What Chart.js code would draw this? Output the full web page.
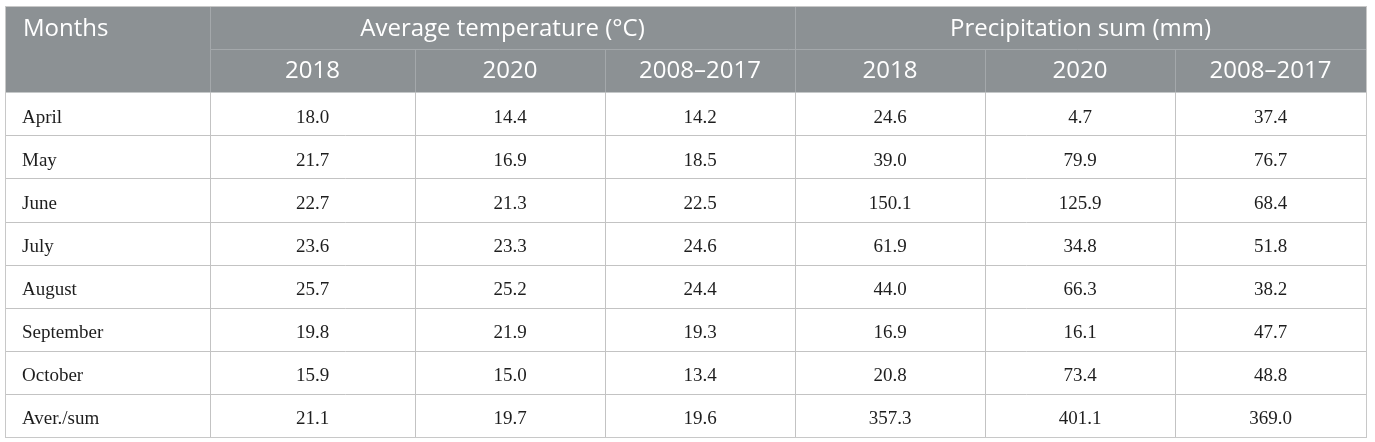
<!DOCTYPE html>
<html>
<head>
<meta charset="utf-8">
<script src="https://cdn.jsdelivr.net/npm/chart.js@4/dist/chart.umd.min.js"></script>
<style>
  html, body { margin: 0; padding: 0; background: #ffffff; }
  #wrap { width: 1375px; height: 442px; }
</style>
</head>
<body>
<div id="wrap"><canvas id="tableChart" width="1375" height="442"></canvas></div>
<script>
// Table content
const months = ['April', 'May', 'June', 'July', 'August', 'September', 'October', 'Aver./sum'];
const periods = ['2018', '2020', '2008–2017'];
const groups = ['Average temperature (°C)', 'Precipitation sum (mm)'];

const temp2018 = [18.0, 21.7, 22.7, 23.6, 25.7, 19.8, 15.9, 21.1];
const temp2020 = [14.4, 16.9, 21.3, 23.3, 25.2, 21.9, 15.0, 19.7];
const tempMean = [14.2, 18.5, 22.5, 24.6, 24.4, 19.3, 13.4, 19.6];
const prec2018 = [24.6, 39.0, 150.1, 61.9, 44.0, 16.9, 20.8, 357.3];
const prec2020 = [4.7, 79.9, 125.9, 34.8, 66.3, 16.1, 73.4, 401.1];
const precMean = [37.4, 76.7, 68.4, 51.8, 38.2, 47.7, 48.8, 369.0];

const valueColumns = [temp2018, temp2020, tempMean, prec2018, prec2020, precMean];

// Layout (relative column widths, header rows)
const colWidths = [205, 205, 190, 190, 190, 190, 191];
const headerRows = 2;
const colEdges = colWidths.reduce((acc, w) => { acc.push(acc[acc.length - 1] + w); return acc; }, [0]);
const totalRows = headerRows + months.length;

const HEADER_BG = '#8c9194';
const HEADER_LINE = '#a4a8ab';
const BODY_LINE = '#c3c3c3';
const HEADER_FONT = '24px "Open Sans"';
const BODY_FONT = '19px "Liberation Serif"';

// one invisible point per cell, positioned through the scales
const cellDatasets = valueColumns.map((values, c) => ({
  label: c < 3 ? groups[0] + ' ' + periods[c] : groups[1] + ' ' + periods[c - 3],
  data: values.map((v, r) => ({
    x: (colEdges[c + 1] + colEdges[c + 2]) / 2,
    y: headerRows + r + 0.5,
    text: v.toFixed(1)
  })),
  pointRadius: 0,
  showLine: false
}));

const tablePlugin = {
  id: 'tablePlugin',
  beforeDatasetsDraw(chart) {
    const { ctx } = chart;
    const xs = chart.scales.x;
    const ys = chart.scales.y;
    const px = v => Math.round(xs.getPixelForValue(v)) + 0.5;
    const py = v => Math.round(ys.getPixelForValue(v)) + 0.5;
    const left = px(0), right = px(colEdges[colEdges.length - 1]);
    const top = py(0), hBottom = py(headerRows), bottom = py(totalRows);

    ctx.save();
    // header background
    ctx.fillStyle = HEADER_BG;
    ctx.fillRect(left, top, right - left, hBottom - top);

    ctx.lineWidth = 1;
    // header lines
    ctx.strokeStyle = HEADER_LINE;
    ctx.beginPath();
    ctx.moveTo(px(colEdges[1]), py(1));
    ctx.lineTo(right, py(1));
    [1, 4].forEach(i => { ctx.moveTo(px(colEdges[i]), top); ctx.lineTo(px(colEdges[i]), py(1)); });
    for (let i = 1; i < colEdges.length - 1; i++) {
      ctx.moveTo(px(colEdges[i]), py(1));
      ctx.lineTo(px(colEdges[i]), hBottom);
    }
    ctx.stroke();

    // body grid
    ctx.strokeStyle = BODY_LINE;
    ctx.beginPath();
    for (let r = headerRows + 1; r < totalRows; r++) {
      ctx.moveTo(left, py(r));
      ctx.lineTo(right, py(r));
    }
    for (let i = 1; i < colEdges.length - 1; i++) {
      ctx.moveTo(px(colEdges[i]), hBottom);
      ctx.lineTo(px(colEdges[i]), bottom);
    }
    ctx.stroke();

    // outer border
    ctx.strokeStyle = '#c8c8c8';
    ctx.strokeRect(left, top, right - left, bottom - top);
    ctx.restore();
  },
  afterDatasetsDraw(chart) {
    const { ctx } = chart;
    const xs = chart.scales.x;
    const ys = chart.scales.y;
    ctx.save();

    // header texts
    ctx.fillStyle = '#ffffff';
    ctx.font = HEADER_FONT;
    ctx.textBaseline = 'middle';
    ctx.textAlign = 'left';
    ctx.fillText('Months', xs.getPixelForValue(0) + 18, ys.getPixelForValue(0.5) + 2);
    ctx.textAlign = 'center';
    groups.forEach((g, i) => {
      const x0 = colEdges[1 + i * 3], x1 = colEdges[4 + i * 3];
      ctx.fillText(g, xs.getPixelForValue((x0 + x1) / 2), ys.getPixelForValue(0.5) + 2);
      periods.forEach((p, j) => {
        const c = 1 + i * 3 + j;
        ctx.fillText(p, xs.getPixelForValue((colEdges[c] + colEdges[c + 1]) / 2), ys.getPixelForValue(1.5) + 1);
      });
    });

    // body texts
    ctx.fillStyle = '#1e1e1e';
    ctx.font = BODY_FONT;
    ctx.textAlign = 'left';
    months.forEach((m, r) => {
      ctx.fillText(m, xs.getPixelForValue(0) + 17, ys.getPixelForValue(headerRows + r + 0.5) + 4);
    });
    ctx.textAlign = 'center';
    chart.data.datasets.forEach((ds, i) => {
      const meta = chart.getDatasetMeta(i);
      meta.data.forEach((pt, r) => {
        ctx.fillText(ds.data[r].text, pt.x, pt.y + 4);
      });
    });
    ctx.restore();
  }
};

function buildTable() {
  const canvas = document.getElementById('tableChart');
  new Chart(canvas.getContext('2d'), {
    type: 'scatter',
    data: { datasets: cellDatasets },
    options: {
      responsive: false,
      animation: false,
      devicePixelRatio: 1,
      layout: { padding: { left: 5, top: 6, right: 9, bottom: 5 } },
      scales: {
        x: { type: 'linear', display: false, min: 0, max: colEdges[colEdges.length - 1] },
        y: { type: 'linear', display: false, min: 0, max: totalRows, reverse: true }
      },
      plugins: {
        legend: { display: false },
        tooltip: { enabled: false }
      }
    },
    plugins: [tablePlugin]
  });
}

document.addEventListener('DOMContentLoaded', () => {
  // make sure the local fonts are ready before the canvas text is drawn
  Promise.all([document.fonts.load(HEADER_FONT), document.fonts.load(BODY_FONT)])
    .catch(() => null)
    .then(buildTable);
});
</script>
</body>
</html>
